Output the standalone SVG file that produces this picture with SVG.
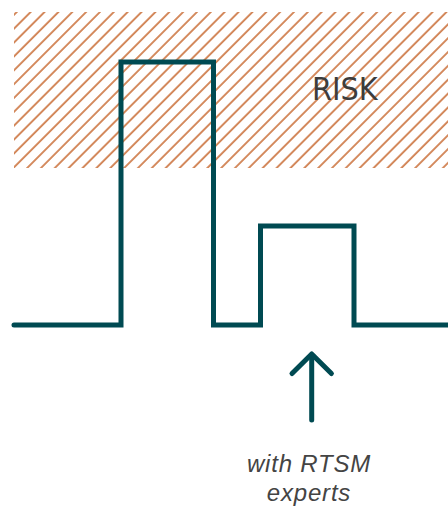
<svg xmlns="http://www.w3.org/2000/svg" width="448" height="506" viewBox="0 0 448 506">
  <style>
    .wave { fill: none; stroke: #004a52; stroke-width: 5; stroke-linecap: round; stroke-linejoin: miter; }
    .arrow { fill: none; stroke: #004a52; stroke-width: 5; stroke-linecap: round; stroke-linejoin: round; }
    .risk { font-family: "DejaVu Sans Condensed", "DejaVu Sans", sans-serif; font-size: 32px; fill: #3d3d3d; }
    .note { font-family: "Liberation Sans", Arial, sans-serif; font-style: italic; font-size: 24px; letter-spacing: 0.8px; fill: #444444; text-anchor: middle; }
  </style>
  <defs>
    <!-- diagonal hatching for the risk band -->
    <pattern id="hatch" patternUnits="userSpaceOnUse" width="9.8" height="10" patternTransform="translate(14 12) rotate(45)">
      <line x1="2" y1="-1" x2="2" y2="11" stroke="#c6652a" stroke-width="1.5"/>
    </pattern>
  </defs>

  <!-- risk band -->
  <g id="risk-zone">
    <rect x="14" y="12" width="434" height="156" fill="url(#hatch)"/>
    <text class="risk" x="312" y="100">RISK</text>
  </g>

  <!-- signal trace -->
  <g id="connectors">
    <path class="wave" d="M14 325 H121 V62 H213.5 V325 H260.5 V226 H354 V325 H450"/>
  </g>

  <!-- upward arrow with caption -->
  <g id="experts">
    <line class="arrow" x1="311.7" y1="420" x2="311.7" y2="356"/>
    <polyline class="arrow" points="292,373.5 311.7,354 331.4,373.5"/>
    <text class="note" x="309" y="471.7">with RTSM</text>
    <text class="note" x="309" y="500.5">experts</text>
  </g>
</svg>
